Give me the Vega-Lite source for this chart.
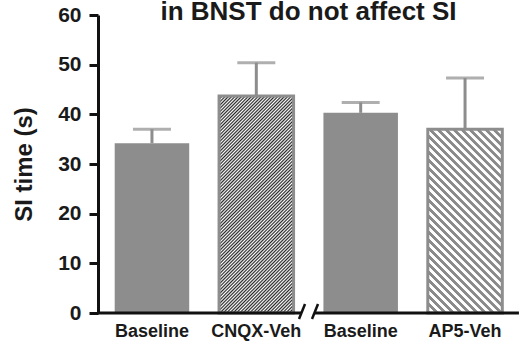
{
"$schema": "https://vega.github.io/schema/vega-lite/v6.json",
"width": 421, "height": 298,
"autosize": {"type": "none"},
"padding": {"left": 98, "top": 15, "right": 6, "bottom": 31},
"background": "white",
"title": {"text": "in BNST do not affect SI", "fontSize": 26, "font": "Liberation Sans", "fontWeight": "bold", "color": "#1a1a1a", "offset": -21, "anchor": "middle"},
"config": {"view": {"stroke": null}, "axis": {"grid": false}},
"data": {"values": [
 {"group": "Baseline1", "time": 34.2, "upper": 37.0},
 {"group": "CNQX-Veh", "time": 43.7, "upper": 50.4},
 {"group": "Baseline2", "time": 40.3, "upper": 42.4},
 {"group": "AP5-Veh", "time": 37.0, "upper": 47.3}
]},
"encoding": {
 "x": {"field": "group", "type": "nominal",
  "scale": {"domain": ["Baseline1", "CNQX-Veh", "Baseline2", "AP5-Veh"], "paddingInner": 0.286, "paddingOuter": 0.16},
  "axis": {"labelExpr": "indexof(datum.label,'Baseline')===0 ? 'Baseline' : datum.label", "title": null, "domain": false, "ticks": false, "tickSize": 0, "labelAngle": 0, "labelPadding": 9, "labelOverlap": false, "labelFont": "Liberation Sans", "labelFontWeight": "bold", "labelFontSize": 18, "labelColor": "#1a1a1a"}},
 "y": {"field": "time", "type": "quantitative",
  "scale": {"domain": [0, 60], "nice": false},
  "axis": {"values": [0, 10, 20, 30, 40, 50, 60], "title": "SI time (s)", "grid": false, "domainColor": "#111111", "domainWidth": 3, "tickColor": "#111111", "tickWidth": 3, "tickSize": 9, "labelPadding": 8, "labelFont": "Liberation Sans", "labelFontWeight": "bold", "labelFontSize": 21, "labelColor": "#1a1a1a", "titleFont": "Liberation Sans", "titleFontWeight": "bold", "titleFontSize": 24, "titleColor": "#1a1a1a", "titlePadding": 21}}
},
"layer": [
 {"transform": [{"filter": "indexof(datum.group,'Baseline')===0"}],
  "mark": {"type": "bar", "color": "#8d8d8d"}},
 {"transform": [{"filter": "datum.group==='CNQX-Veh'"}],
  "mark": {"type": "bar", "stroke": "#8d8d8d", "strokeWidth": 3,
   "fill": {"gradient": "linear", "x1": 0, "y1": 0, "x2": 0.4675, "y2": 1.36, "stops": [
{"offset":0,"color":"#262626"},{"offset":0.005,"color":"#fff"},{"offset":0.01,"color":"#262626"},{"offset":0.015,"color":"#fff"},{"offset":0.02,"color":"#262626"},{"offset":0.025,"color":"#fff"},{"offset":0.03,"color":"#262626"},{"offset":0.035,"color":"#fff"},{"offset":0.04,"color":"#262626"},{"offset":0.045,"color":"#fff"},
{"offset":0.05,"color":"#262626"},{"offset":0.055,"color":"#fff"},{"offset":0.06,"color":"#262626"},{"offset":0.065,"color":"#fff"},{"offset":0.07,"color":"#262626"},{"offset":0.075,"color":"#fff"},{"offset":0.08,"color":"#262626"},{"offset":0.085,"color":"#fff"},{"offset":0.09,"color":"#262626"},{"offset":0.095,"color":"#fff"},
{"offset":0.1,"color":"#262626"},{"offset":0.105,"color":"#fff"},{"offset":0.11,"color":"#262626"},{"offset":0.115,"color":"#fff"},{"offset":0.12,"color":"#262626"},{"offset":0.125,"color":"#fff"},{"offset":0.13,"color":"#262626"},{"offset":0.135,"color":"#fff"},{"offset":0.14,"color":"#262626"},{"offset":0.145,"color":"#fff"},
{"offset":0.15,"color":"#262626"},{"offset":0.155,"color":"#fff"},{"offset":0.16,"color":"#262626"},{"offset":0.165,"color":"#fff"},{"offset":0.17,"color":"#262626"},{"offset":0.175,"color":"#fff"},{"offset":0.18,"color":"#262626"},{"offset":0.185,"color":"#fff"},{"offset":0.19,"color":"#262626"},{"offset":0.195,"color":"#fff"},
{"offset":0.2,"color":"#262626"},{"offset":0.205,"color":"#fff"},{"offset":0.21,"color":"#262626"},{"offset":0.215,"color":"#fff"},{"offset":0.22,"color":"#262626"},{"offset":0.225,"color":"#fff"},{"offset":0.23,"color":"#262626"},{"offset":0.235,"color":"#fff"},{"offset":0.24,"color":"#262626"},{"offset":0.245,"color":"#fff"},
{"offset":0.25,"color":"#262626"},{"offset":0.255,"color":"#fff"},{"offset":0.26,"color":"#262626"},{"offset":0.265,"color":"#fff"},{"offset":0.27,"color":"#262626"},{"offset":0.275,"color":"#fff"},{"offset":0.28,"color":"#262626"},{"offset":0.285,"color":"#fff"},{"offset":0.29,"color":"#262626"},{"offset":0.295,"color":"#fff"},
{"offset":0.3,"color":"#262626"},{"offset":0.305,"color":"#fff"},{"offset":0.31,"color":"#262626"},{"offset":0.315,"color":"#fff"},{"offset":0.32,"color":"#262626"},{"offset":0.325,"color":"#fff"},{"offset":0.33,"color":"#262626"},{"offset":0.335,"color":"#fff"},{"offset":0.34,"color":"#262626"},{"offset":0.345,"color":"#fff"},
{"offset":0.35,"color":"#262626"},{"offset":0.355,"color":"#fff"},{"offset":0.36,"color":"#262626"},{"offset":0.365,"color":"#fff"},{"offset":0.37,"color":"#262626"},{"offset":0.375,"color":"#fff"},{"offset":0.38,"color":"#262626"},{"offset":0.385,"color":"#fff"},{"offset":0.39,"color":"#262626"},{"offset":0.395,"color":"#fff"},
{"offset":0.4,"color":"#262626"},{"offset":0.405,"color":"#fff"},{"offset":0.41,"color":"#262626"},{"offset":0.415,"color":"#fff"},{"offset":0.42,"color":"#262626"},{"offset":0.425,"color":"#fff"},{"offset":0.43,"color":"#262626"},{"offset":0.435,"color":"#fff"},{"offset":0.44,"color":"#262626"},{"offset":0.445,"color":"#fff"},
{"offset":0.45,"color":"#262626"},{"offset":0.455,"color":"#fff"},{"offset":0.46,"color":"#262626"},{"offset":0.465,"color":"#fff"},{"offset":0.47,"color":"#262626"},{"offset":0.475,"color":"#fff"},{"offset":0.48,"color":"#262626"},{"offset":0.485,"color":"#fff"},{"offset":0.49,"color":"#262626"},{"offset":0.495,"color":"#fff"},
{"offset":0.5,"color":"#262626"},{"offset":0.505,"color":"#fff"},{"offset":0.51,"color":"#262626"},{"offset":0.515,"color":"#fff"},{"offset":0.52,"color":"#262626"},{"offset":0.525,"color":"#fff"},{"offset":0.53,"color":"#262626"},{"offset":0.535,"color":"#fff"},{"offset":0.54,"color":"#262626"},{"offset":0.545,"color":"#fff"},
{"offset":0.55,"color":"#262626"},{"offset":0.555,"color":"#fff"},{"offset":0.56,"color":"#262626"},{"offset":0.565,"color":"#fff"},{"offset":0.57,"color":"#262626"},{"offset":0.575,"color":"#fff"},{"offset":0.58,"color":"#262626"},{"offset":0.585,"color":"#fff"},{"offset":0.59,"color":"#262626"},{"offset":0.595,"color":"#fff"},
{"offset":0.6,"color":"#262626"},{"offset":0.605,"color":"#fff"},{"offset":0.61,"color":"#262626"},{"offset":0.615,"color":"#fff"},{"offset":0.62,"color":"#262626"},{"offset":0.625,"color":"#fff"},{"offset":0.63,"color":"#262626"},{"offset":0.635,"color":"#fff"},{"offset":0.64,"color":"#262626"},{"offset":0.645,"color":"#fff"},
{"offset":0.65,"color":"#262626"},{"offset":0.655,"color":"#fff"},{"offset":0.66,"color":"#262626"},{"offset":0.665,"color":"#fff"},{"offset":0.67,"color":"#262626"},{"offset":0.675,"color":"#fff"},{"offset":0.68,"color":"#262626"},{"offset":0.685,"color":"#fff"},{"offset":0.69,"color":"#262626"},{"offset":0.695,"color":"#fff"},
{"offset":0.7,"color":"#262626"},{"offset":0.705,"color":"#fff"},{"offset":0.71,"color":"#262626"},{"offset":0.715,"color":"#fff"},{"offset":0.72,"color":"#262626"},{"offset":0.725,"color":"#fff"},{"offset":0.73,"color":"#262626"},{"offset":0.735,"color":"#fff"},{"offset":0.74,"color":"#262626"},{"offset":0.745,"color":"#fff"},
{"offset":0.75,"color":"#262626"},{"offset":0.755,"color":"#fff"},{"offset":0.76,"color":"#262626"},{"offset":0.765,"color":"#fff"},{"offset":0.77,"color":"#262626"},{"offset":0.775,"color":"#fff"},{"offset":0.78,"color":"#262626"},{"offset":0.785,"color":"#fff"},{"offset":0.79,"color":"#262626"},{"offset":0.795,"color":"#fff"},
{"offset":0.8,"color":"#262626"},{"offset":0.805,"color":"#fff"},{"offset":0.81,"color":"#262626"},{"offset":0.815,"color":"#fff"},{"offset":0.82,"color":"#262626"},{"offset":0.825,"color":"#fff"},{"offset":0.83,"color":"#262626"},{"offset":0.835,"color":"#fff"},{"offset":0.84,"color":"#262626"},{"offset":0.845,"color":"#fff"},
{"offset":0.85,"color":"#262626"},{"offset":0.855,"color":"#fff"},{"offset":0.86,"color":"#262626"},{"offset":0.865,"color":"#fff"},{"offset":0.87,"color":"#262626"},{"offset":0.875,"color":"#fff"},{"offset":0.88,"color":"#262626"},{"offset":0.885,"color":"#fff"},{"offset":0.89,"color":"#262626"},{"offset":0.895,"color":"#fff"},
{"offset":0.9,"color":"#262626"}
   ]}}},
 {"transform": [{"filter": "datum.group==='AP5-Veh'"}],
  "mark": {"type": "bar", "stroke": "#8d8d8d", "strokeWidth": 3,
   "fill": {"gradient": "linear", "x1": 0, "y1": 1, "x2": 0.6067, "y2": -0.4948, "stops": [
{"offset":0,"color":"#8a8a8a"},{"offset":0.01,"color":"#8a8a8a"},{"offset":0.0125,"color":"#fff"},{"offset":0.0225,"color":"#fff"},
{"offset":0.025,"color":"#8a8a8a"},{"offset":0.035,"color":"#8a8a8a"},{"offset":0.0375,"color":"#fff"},{"offset":0.0475,"color":"#fff"},
{"offset":0.05,"color":"#8a8a8a"},{"offset":0.06,"color":"#8a8a8a"},{"offset":0.0625,"color":"#fff"},{"offset":0.0725,"color":"#fff"},
{"offset":0.075,"color":"#8a8a8a"},{"offset":0.085,"color":"#8a8a8a"},{"offset":0.0875,"color":"#fff"},{"offset":0.0975,"color":"#fff"},
{"offset":0.1,"color":"#8a8a8a"},{"offset":0.11,"color":"#8a8a8a"},{"offset":0.1125,"color":"#fff"},{"offset":0.1225,"color":"#fff"},
{"offset":0.125,"color":"#8a8a8a"},{"offset":0.135,"color":"#8a8a8a"},{"offset":0.1375,"color":"#fff"},{"offset":0.1475,"color":"#fff"},
{"offset":0.15,"color":"#8a8a8a"},{"offset":0.16,"color":"#8a8a8a"},{"offset":0.1625,"color":"#fff"},{"offset":0.1725,"color":"#fff"},
{"offset":0.175,"color":"#8a8a8a"},{"offset":0.185,"color":"#8a8a8a"},{"offset":0.1875,"color":"#fff"},{"offset":0.1975,"color":"#fff"},
{"offset":0.2,"color":"#8a8a8a"},{"offset":0.21,"color":"#8a8a8a"},{"offset":0.2125,"color":"#fff"},{"offset":0.2225,"color":"#fff"},
{"offset":0.225,"color":"#8a8a8a"},{"offset":0.235,"color":"#8a8a8a"},{"offset":0.2375,"color":"#fff"},{"offset":0.2475,"color":"#fff"},
{"offset":0.25,"color":"#8a8a8a"},{"offset":0.26,"color":"#8a8a8a"},{"offset":0.2625,"color":"#fff"},{"offset":0.2725,"color":"#fff"},
{"offset":0.275,"color":"#8a8a8a"},{"offset":0.285,"color":"#8a8a8a"},{"offset":0.2875,"color":"#fff"},{"offset":0.2975,"color":"#fff"},
{"offset":0.3,"color":"#8a8a8a"},{"offset":0.31,"color":"#8a8a8a"},{"offset":0.3125,"color":"#fff"},{"offset":0.3225,"color":"#fff"},
{"offset":0.325,"color":"#8a8a8a"},{"offset":0.335,"color":"#8a8a8a"},{"offset":0.3375,"color":"#fff"},{"offset":0.3475,"color":"#fff"},
{"offset":0.35,"color":"#8a8a8a"},{"offset":0.36,"color":"#8a8a8a"},{"offset":0.3625,"color":"#fff"},{"offset":0.3725,"color":"#fff"},
{"offset":0.375,"color":"#8a8a8a"},{"offset":0.385,"color":"#8a8a8a"},{"offset":0.3875,"color":"#fff"},{"offset":0.3975,"color":"#fff"},
{"offset":0.4,"color":"#8a8a8a"},{"offset":0.41,"color":"#8a8a8a"},{"offset":0.4125,"color":"#fff"},{"offset":0.4225,"color":"#fff"},
{"offset":0.425,"color":"#8a8a8a"},{"offset":0.435,"color":"#8a8a8a"},{"offset":0.4375,"color":"#fff"},{"offset":0.4475,"color":"#fff"},
{"offset":0.45,"color":"#8a8a8a"},{"offset":0.46,"color":"#8a8a8a"},{"offset":0.4625,"color":"#fff"},{"offset":0.4725,"color":"#fff"},
{"offset":0.475,"color":"#8a8a8a"},{"offset":0.485,"color":"#8a8a8a"},{"offset":0.4875,"color":"#fff"},{"offset":0.4975,"color":"#fff"},
{"offset":0.5,"color":"#8a8a8a"},{"offset":0.51,"color":"#8a8a8a"},{"offset":0.5125,"color":"#fff"},{"offset":0.5225,"color":"#fff"},
{"offset":0.525,"color":"#8a8a8a"},{"offset":0.535,"color":"#8a8a8a"},{"offset":0.5375,"color":"#fff"},{"offset":0.5475,"color":"#fff"},
{"offset":0.55,"color":"#8a8a8a"},{"offset":0.56,"color":"#8a8a8a"},{"offset":0.5625,"color":"#fff"},{"offset":0.5725,"color":"#fff"},
{"offset":0.575,"color":"#8a8a8a"},{"offset":0.585,"color":"#8a8a8a"},{"offset":0.5875,"color":"#fff"},{"offset":0.5975,"color":"#fff"},
{"offset":0.6,"color":"#8a8a8a"},{"offset":0.61,"color":"#8a8a8a"},{"offset":0.6125,"color":"#fff"},{"offset":0.6225,"color":"#fff"},
{"offset":0.625,"color":"#8a8a8a"},{"offset":0.635,"color":"#8a8a8a"},{"offset":0.6375,"color":"#fff"},{"offset":0.6475,"color":"#fff"},
{"offset":0.65,"color":"#8a8a8a"},{"offset":0.66,"color":"#8a8a8a"},{"offset":0.6625,"color":"#fff"},{"offset":0.6725,"color":"#fff"},
{"offset":0.675,"color":"#8a8a8a"},{"offset":0.685,"color":"#8a8a8a"},{"offset":0.6875,"color":"#fff"},{"offset":0.6975,"color":"#fff"},
{"offset":0.7,"color":"#8a8a8a"},{"offset":0.71,"color":"#8a8a8a"},{"offset":0.7125,"color":"#fff"},{"offset":0.7225,"color":"#fff"},
{"offset":0.725,"color":"#8a8a8a"},{"offset":0.735,"color":"#8a8a8a"},{"offset":0.7375,"color":"#fff"},{"offset":0.7475,"color":"#fff"},
{"offset":0.75,"color":"#8a8a8a"},{"offset":0.76,"color":"#8a8a8a"},{"offset":0.7625,"color":"#fff"},{"offset":0.7725,"color":"#fff"},
{"offset":0.775,"color":"#8a8a8a"},{"offset":0.785,"color":"#8a8a8a"},{"offset":0.7875,"color":"#fff"},{"offset":0.7975,"color":"#fff"},
{"offset":0.8,"color":"#8a8a8a"},{"offset":0.81,"color":"#8a8a8a"},{"offset":0.8125,"color":"#fff"},{"offset":0.8225,"color":"#fff"},
{"offset":0.825,"color":"#8a8a8a"}
   ]}}},
 {"mark": {"type": "rule", "color": "#8d8d8d", "strokeWidth": 3},
  "encoding": {"y2": {"field": "upper"}}},
 {"mark": {"type": "tick", "color": "#8d8d8d", "thickness": 3, "size": 38, "orient": "horizontal"},
  "encoding": {"y": {"field": "upper", "type": "quantitative"}}},
 {"transform": [{"filter": "datum.group==='CNQX-Veh'"}],
  "mark": {"type": "rule", "color": "#111111", "strokeWidth": 3, "xOffset": -54, "x2Offset": 45.7},
  "encoding": {"x": {"datum": "Baseline1", "type": "nominal"}, "x2": {"datum": "CNQX-Veh"}, "y": {"datum": 0, "type": "quantitative"}}},
 {"transform": [{"filter": "datum.group==='CNQX-Veh'"}],
  "mark": {"type": "rule", "color": "#111111", "strokeWidth": 3, "xOffset": -45.7, "x2Offset": 53.9},
  "encoding": {"x": {"datum": "Baseline2", "type": "nominal"}, "x2": {"datum": "AP5-Veh"}, "y": {"datum": 0, "type": "quantitative"}}},
 {"transform": [{"filter": "datum.group==='CNQX-Veh'"}],
  "mark": {"type": "rule", "color": "#111111", "strokeWidth": 2.5, "xOffset": 42.7, "x2Offset": 48.7, "yOffset": 6, "y2Offset": -9},
  "encoding": {"x": {"datum": "CNQX-Veh", "type": "nominal"}, "x2": {"datum": "CNQX-Veh"}, "y": {"datum": 0, "type": "quantitative"}, "y2": {"datum": 0}}},
 {"transform": [{"filter": "datum.group==='CNQX-Veh'"}],
  "mark": {"type": "rule", "color": "#111111", "strokeWidth": 2.5, "xOffset": 55.7, "x2Offset": 61.7, "yOffset": 6, "y2Offset": -9},
  "encoding": {"x": {"datum": "CNQX-Veh", "type": "nominal"}, "x2": {"datum": "CNQX-Veh"}, "y": {"datum": 0, "type": "quantitative"}, "y2": {"datum": 0}}}
]
}
